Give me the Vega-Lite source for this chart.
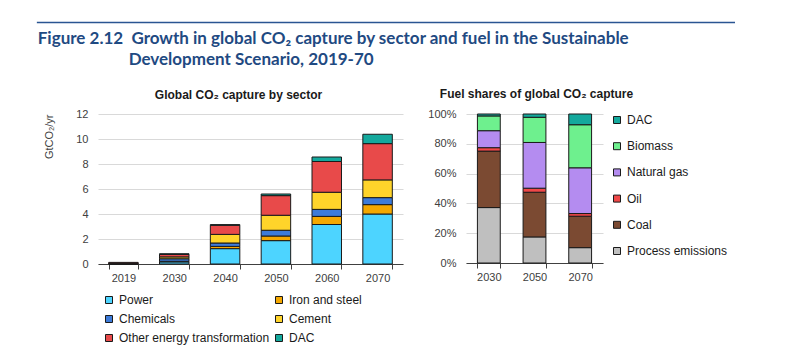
{
  "$schema": "https://vega.github.io/schema/vega-lite/v6.json",
  "padding": {"left": 36, "top": 21, "right": 5, "bottom": 5},
  "spacing": 6,
  "config": {
    "view": {"stroke": null},
    "axis": {"labelFont": "Liberation Sans", "labelFontSize": 11, "labelColor": "#404040", "titleFont": "Liberation Sans", "titleFontSize": 11, "titleFontWeight": "normal", "titleColor": "#404040", "gridColor": "#d9d9d9", "gridWidth": 1},
    "axisY": {"domain": false, "ticks": false, "labelPadding": 10},
    "axisX": {"domainColor": "#404040", "tickColor": "#404040", "tickSize": 5, "labelPadding": 3, "grid": false},
    "legend": {"labelFont": "Liberation Sans", "labelFontSize": 12, "labelColor": "#1a1a1a", "symbolType": "square", "symbolSize": 49, "symbolStrokeColor": "#1a1a1a", "symbolStrokeWidth": 1, "labelOffset": 4}
  },
  "vconcat": [
    {
      "width": 637,
      "height": 1,
      "data": {"values": [{"x0": -0.096, "x1": 1, "v": 0.5}]},
      "mark": {"type": "rule", "color": "#2a5592", "strokeWidth": 1.5, "clip": false},
      "encoding": {
        "x": {"field": "x0", "type": "quantitative", "scale": {"domain": [0, 1], "clamp": false, "zero": false, "nice": false}, "axis": null},
        "x2": {"field": "x1"},
        "y": {"field": "v", "type": "quantitative", "scale": {"domain": [0, 1]}, "axis": null}
      }
    },
    {
      "title": {
        "text": ["Figure 2.12\u00a0 Growth in global CO₂ capture by sector and fuel in the Sustainable", "\u200b\u00a0\u00a0\u00a0\u00a0\u00a0\u00a0\u00a0\u00a0\u00a0\u00a0\u00a0\u00a0\u00a0\u00a0\u00a0\u00a0\u00a0\u00a0\u00a0\u00a0\u00a0\u00a0Development Scenario, 2019-70"],
        "anchor": "start",
        "font": "Lato",
        "fontSize": 17,
        "fontWeight": "bold",
        "color": "#1f4a82",
        "lineHeight": 21,
        "offset": 19,
        "dx": -6
      },
      "spacing": 24,
      "resolve": {"scale": {"color": "independent"}},
      "hconcat": [
        {
          "width": 305,
          "height": 150,
          "title": {"text": "Global CO₂ capture by sector", "font": "Liberation Sans", "fontSize": 12, "fontWeight": "bold", "color": "#1a1a1a", "offset": 6, "dx": -12},
          "data": {"values": [
            {"year": "2019", "sector": "Power", "value": 0.01, "ord": 1},
            {"year": "2019", "sector": "Iron and steel", "value": 0.01, "ord": 2},
            {"year": "2019", "sector": "Chemicals", "value": 0.03, "ord": 3},
            {"year": "2019", "sector": "Other energy transformation", "value": 0.08, "ord": 5},
            {"year": "2030", "sector": "Power", "value": 0.17, "ord": 1},
            {"year": "2030", "sector": "Iron and steel", "value": 0.05, "ord": 2},
            {"year": "2030", "sector": "Chemicals", "value": 0.2, "ord": 3},
            {"year": "2030", "sector": "Cement", "value": 0.15, "ord": 4},
            {"year": "2030", "sector": "Other energy transformation", "value": 0.2, "ord": 5},
            {"year": "2030", "sector": "DAC", "value": 0.05, "ord": 6},
            {"year": "2040", "sector": "Power", "value": 1.23, "ord": 1},
            {"year": "2040", "sector": "Iron and steel", "value": 0.18, "ord": 2},
            {"year": "2040", "sector": "Chemicals", "value": 0.27, "ord": 3},
            {"year": "2040", "sector": "Cement", "value": 0.69, "ord": 4},
            {"year": "2040", "sector": "Other energy transformation", "value": 0.73, "ord": 5},
            {"year": "2040", "sector": "DAC", "value": 0.05, "ord": 6},
            {"year": "2050", "sector": "Power", "value": 1.87, "ord": 1},
            {"year": "2050", "sector": "Iron and steel", "value": 0.37, "ord": 2},
            {"year": "2050", "sector": "Chemicals", "value": 0.46, "ord": 3},
            {"year": "2050", "sector": "Cement", "value": 1.2, "ord": 4},
            {"year": "2050", "sector": "Other energy transformation", "value": 1.57, "ord": 5},
            {"year": "2050", "sector": "DAC", "value": 0.13, "ord": 6},
            {"year": "2060", "sector": "Power", "value": 3.16, "ord": 1},
            {"year": "2060", "sector": "Iron and steel", "value": 0.65, "ord": 2},
            {"year": "2060", "sector": "Chemicals", "value": 0.56, "ord": 3},
            {"year": "2060", "sector": "Cement", "value": 1.37, "ord": 4},
            {"year": "2060", "sector": "Other energy transformation", "value": 2.46, "ord": 5},
            {"year": "2060", "sector": "DAC", "value": 0.36, "ord": 6},
            {"year": "2070", "sector": "Power", "value": 4.0, "ord": 1},
            {"year": "2070", "sector": "Iron and steel", "value": 0.75, "ord": 2},
            {"year": "2070", "sector": "Chemicals", "value": 0.56, "ord": 3},
            {"year": "2070", "sector": "Cement", "value": 1.42, "ord": 4},
            {"year": "2070", "sector": "Other energy transformation", "value": 2.9, "ord": 5},
            {"year": "2070", "sector": "DAC", "value": 0.75, "ord": 6}
          ]},
          "mark": {"type": "bar", "stroke": "#1a1a1a", "strokeWidth": 1},
          "encoding": {
            "x": {"field": "year", "type": "nominal", "title": null, "scale": {"paddingInner": 0.42, "paddingOuter": 0.21}, "axis": {"labelAngle": 0, "tickBand": "extent"}},
            "y": {"field": "value", "type": "quantitative", "stack": "zero", "scale": {"domain": [0, 12]}, "axis": {"values": [0, 2, 4, 6, 8, 10, 12], "title": "GtCO₂/yr", "titleAnchor": "end", "titlePadding": 21}},
            "color": {"field": "sector", "type": "nominal",
              "scale": {"domain": ["Power", "Iron and steel", "Chemicals", "Cement", "Other energy transformation", "DAC"], "range": ["#4dd4ff", "#f5a800", "#3d7bd9", "#ffd42a", "#e84a4a", "#14a99d"]},
              "legend": {"orient": "bottom", "columns": 2, "title": null, "rowPadding": 7, "columnPadding": 3, "offset": 6, "padding": 5}},
            "order": {"field": "ord", "type": "quantitative"}
          }
        },
        {
          "width": 137,
          "height": 149,
          "title": {"text": "Fuel shares of global CO₂ capture", "font": "Liberation Sans", "fontSize": 12, "fontWeight": "bold", "color": "#1a1a1a", "offset": 7, "dx": 2},
          "data": {"values": [
            {"year": "2030", "fuel": "Process emissions", "share": 37.2, "ord": 1},
            {"year": "2030", "fuel": "Coal", "share": 37.9, "ord": 2},
            {"year": "2030", "fuel": "Oil", "share": 2.3, "ord": 3},
            {"year": "2030", "fuel": "Natural gas", "share": 11.4, "ord": 4},
            {"year": "2030", "fuel": "Biomass", "share": 9.9, "ord": 5},
            {"year": "2030", "fuel": "DAC", "share": 1.3, "ord": 6},
            {"year": "2050", "fuel": "Process emissions", "share": 17.5, "ord": 1},
            {"year": "2050", "fuel": "Coal", "share": 30.0, "ord": 2},
            {"year": "2050", "fuel": "Oil", "share": 2.7, "ord": 3},
            {"year": "2050", "fuel": "Natural gas", "share": 30.7, "ord": 4},
            {"year": "2050", "fuel": "Biomass", "share": 16.9, "ord": 5},
            {"year": "2050", "fuel": "DAC", "share": 2.2, "ord": 6},
            {"year": "2070", "fuel": "Process emissions", "share": 10.3, "ord": 1},
            {"year": "2070", "fuel": "Coal", "share": 21.1, "ord": 2},
            {"year": "2070", "fuel": "Oil", "share": 1.8, "ord": 3},
            {"year": "2070", "fuel": "Natural gas", "share": 30.7, "ord": 4},
            {"year": "2070", "fuel": "Biomass", "share": 28.9, "ord": 5},
            {"year": "2070", "fuel": "DAC", "share": 7.2, "ord": 6}
          ]},
          "mark": {"type": "bar", "stroke": "#1a1a1a", "strokeWidth": 1},
          "encoding": {
            "x": {"field": "year", "type": "nominal", "title": null, "scale": {"paddingInner": 0.5, "paddingOuter": 0.25}, "axis": {"labelAngle": 0, "tickBand": "extent"}},
            "y": {"field": "share", "type": "quantitative", "stack": "normalize", "axis": {"values": [0, 0.2, 0.4, 0.6, 0.8, 1], "format": ".0%", "title": null}},
            "color": {"field": "fuel", "type": "nominal",
              "scale": {"domain": ["DAC", "Biomass", "Natural gas", "Oil", "Coal", "Process emissions"], "range": ["#14a99d", "#6ef08e", "#b48cf0", "#f04848", "#7b4a32", "#bfbfbf"]},
              "legend": {"orient": "right", "title": null, "rowPadding": 14.2, "offset": 7.5}},
            "order": {"field": "ord", "type": "quantitative"}
          }
        }
      ]
    }
  ]
}
